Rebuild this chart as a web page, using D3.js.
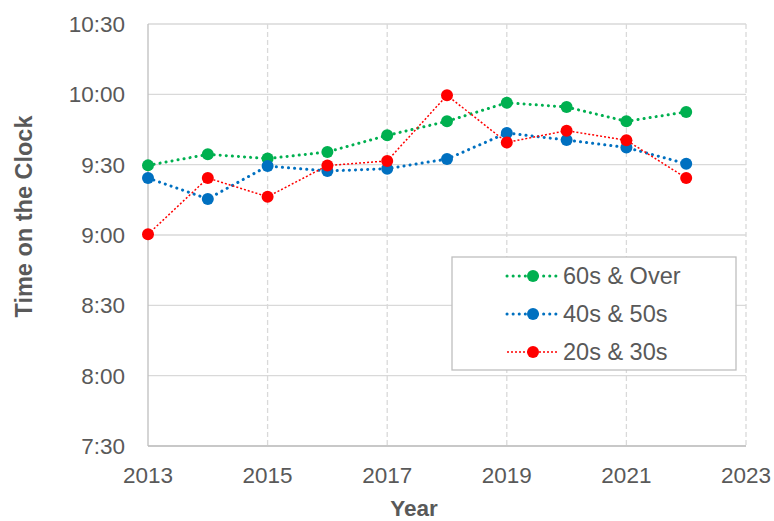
<!DOCTYPE html>
<html>
<head>
<meta charset="utf-8">
<script src="https://cdn.jsdelivr.net/npm/d3@7"></script>
<style>
  body { margin: 0; background: #fff; }
  text { font-family: "Liberation Sans", Arial, sans-serif; fill: #595959; }
</style>
</head>
<body>
<div id="main"></div>
<script>
// **** Data: minutes after midnight ****
var years = [2013, 2014, 2015, 2016, 2017, 2018, 2019, 2020, 2021, 2022];
var over60 = [569.7, 574.4, 572.6, 575.4, 582.5, 588.5, 596.4, 594.6, 588.5, 592.5];
var s40s50s = [564.3, 555.4, 569.4, 567.3, 568.3, 572.4, 583.5, 580.5, 577.3, 570.4];
var s20s30s = [540.3, 564.3, 556.3, 569.6, 571.6, 599.6, 579.5, 584.5, 580.4, 564.3];
var xTicks = [2013, 2015, 2017, 2019, 2021, 2023];
var yTicks = [450, 480, 510, 540, 570, 600, 630];

var series = [
  {name: "60s & Over", values: over60, color: "#00B050", width: 3, dash: "0.1 6", cap: "round", r: 6},
  {name: "40s & 50s", values: s40s50s, color: "#0070C0", width: 3, dash: "0.1 6", cap: "round", r: 6},
  {name: "20s & 30s", values: s20s30s, color: "#FF0000", width: 1.5, dash: "2 2", cap: "butt", r: 6}
];

var width = 774, height = 521;
var svg = d3.select("#main").append("svg")
    .attr("width", width)
    .attr("height", height);

var x = d3.scaleLinear().domain([2013, 2023]).range([148, 746]);
var y = d3.scaleLinear().domain([450, 630]).range([446, 24]);

function fmt(m) {
  var h = Math.floor(m / 60), mm = m % 60;
  return h + ":" + (mm < 10 ? "0" : "") + mm;
}

// **** Gridlines ****
svg.append("g").selectAll("line").data(yTicks).enter().append("line")
    .attr("x1", x(2013)).attr("x2", x(2023))
    .attr("y1", function(d){ return y(d); }).attr("y2", function(d){ return y(d); })
    .style("stroke", "#d9d9d9").style("stroke-width", 1.3);

svg.append("g").selectAll("line").data(xTicks.slice(1)).enter().append("line")
    .attr("x1", function(d){ return x(d); }).attr("x2", function(d){ return x(d); })
    .attr("y1", y(630)).attr("y2", y(450))
    .style("stroke", "#d9d9d9").style("stroke-width", 1.3)
    .style("stroke-dasharray", "5 3");

// axis lines
svg.append("line").attr("x1", x(2013)).attr("x2", x(2013)).attr("y1", y(630)).attr("y2", y(450))
    .style("stroke", "#bfbfbf").style("stroke-width", 1.3);
svg.append("line").attr("x1", x(2013)).attr("x2", x(2023)).attr("y1", y(450)).attr("y2", y(450))
    .style("stroke", "#bfbfbf").style("stroke-width", 1.3);

// **** Tick labels ****
svg.append("g").selectAll("text").data(yTicks).enter().append("text")
    .attr("x", 125).attr("y", function(d){ return y(d); })
    .attr("dy", "0.36em")
    .attr("text-anchor", "end")
    .style("font-size", "22.5px")
    .text(fmt);

svg.append("g").selectAll("text").data(xTicks).enter().append("text")
    .attr("x", function(d){ return x(d); }).attr("y", 483)
    .attr("text-anchor", "middle")
    .style("font-size", "22.5px")
    .text(function(d){ return d; });

// **** Axis titles ****
svg.append("text")
    .attr("x", 414).attr("y", 516)
    .attr("text-anchor", "middle")
    .style("font-size", "22.5px").style("font-weight", "bold")
    .text("Year");

svg.append("text")
    .attr("transform", "translate(31.5,216.5) rotate(-90)")
    .attr("text-anchor", "middle")
    .style("font-size", "23.5px").style("font-weight", "bold")
    .text("Time on the Clock");

// **** Lines and dots ****
var line = d3.line()
    .x(function(d, i){ return x(years[i]); })
    .y(function(d){ return y(d); });

series.forEach(function(s) {
  svg.append("path")
      .datum(s.values)
      .attr("d", line)
      .style("fill", "none")
      .style("stroke", s.color)
      .style("stroke-width", s.width)
      .style("stroke-dasharray", s.dash)
      .style("stroke-linecap", s.cap);
});

series.forEach(function(s) {
  svg.append("g").selectAll("circle").data(s.values).enter().append("circle")
      .attr("cx", function(d, i){ return x(years[i]); })
      .attr("cy", function(d){ return y(d); })
      .attr("r", s.r)
      .style("fill", s.color);
});

// **** Legend ****
var legend = svg.append("g");
legend.append("rect")
    .attr("x", 452).attr("y", 257).attr("width", 284).attr("height", 113)
    .style("fill", "#fff").style("stroke", "#bfbfbf").style("stroke-width", 1.3);

var rowY = [276, 314, 352];
series.forEach(function(s, i) {
  legend.append("line")
      .attr("x1", 507).attr("x2", 557).attr("y1", rowY[i]).attr("y2", rowY[i])
      .style("stroke", s.color)
      .style("stroke-width", s.width)
      .style("stroke-dasharray", s.dash)
      .style("stroke-linecap", s.cap);
  legend.append("circle")
      .attr("cx", 533).attr("cy", rowY[i]).attr("r", s.r)
      .style("fill", s.color);
  legend.append("text")
      .attr("x", 563).attr("y", rowY[i]).attr("dy", "0.36em")
      .style("font-size", "23.5px")
      .text(s.name);
});
</script>
</body>
</html>
